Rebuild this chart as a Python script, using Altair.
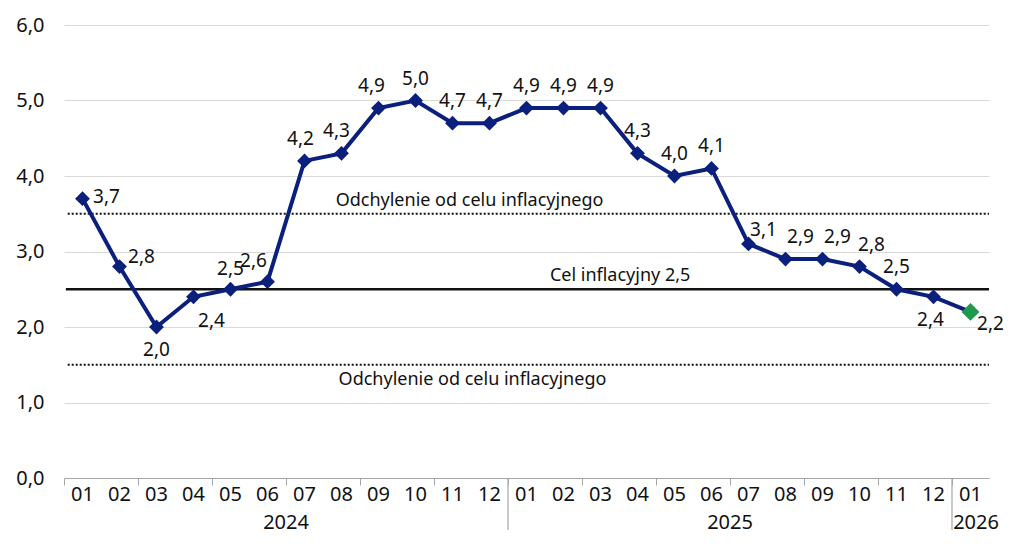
import altair as alt
import pandas as pd

months = ["01","02","03","04","05","06","07","08","09","10","11","12",
          "01","02","03","04","05","06","07","08","09","10","11","12","01"]
years = ["2024"] * 12 + ["2025"] * 12 + ["2026"]
values = [3.7, 2.8, 2.0, 2.4, 2.5, 2.6, 4.2, 4.3, 4.9, 5.0, 4.7, 4.7,
          4.9, 4.9, 4.9, 4.3, 4.0, 4.1, 3.1, 2.9, 2.9, 2.8, 2.5, 2.4, 2.2]
is_forecast = [False] * 24 + [True]
year_labels = ["2024", "2025", "2026"]
year_centers = [6, 18, 24.65]
year_bounds = [12, 24]
target = 2.5
band_upper = 3.5
band_lower = 1.5
target_label = "Cel inflacyjny 2,5"
band_label = "Odchylenie od celu inflacyjnego"

# label offsets per point (style only, pixels)
label_dx = [24, 22, 0, 18, 0, -14, -4, -5, -7, 0, 0, 0,
            0, 0, 0, 0, 0, 0, 15, 15, 15, 12, 0, -3, 20]
label_dy = [-2, -10, 23, 24, -20, -21, -22, -22, -22, -22, -22, -22,
            -22, -22, -22, -22, -22, -22, -14, -22, -22, -22, -22, 23, 12]

W, H = 925, 453
FONT = "Noto Sans"
NAVY = "#0b1f7c"
GREEN = "#1e9a4c"

df = pd.DataFrame({
    "idx": [i + 0.5 for i in range(len(values))],
    "month": months,
    "year": years,
    "value": values,
    "forecast": is_forecast,
    "label": [f"{v:.1f}".replace(".", ",") for v in values],
    "key": [f"{a}_{b}" for a, b in zip(label_dx, label_dy)],
})

x = alt.X("idx:Q", scale=alt.Scale(domain=[0, 25], nice=False, zero=False),
          axis=alt.Axis(values=list(range(26)), labels=False, tickSize=7,
                        tickColor="#a6a6a6", domainColor="#a6a6a6", grid=False,
                        title=None, domainWidth=1.2))
y = alt.Y("value:Q", scale=alt.Scale(domain=[0, 6], nice=False),
          axis=alt.Axis(values=[i * 0.5 for i in range(13)], labelExpr=
                        "datum.value % 1 == 0 ? replace(format(datum.value, '.1f'), '.', ',') : ''",
                        grid=True, gridColor="#d9d9d9", gridWidth=1, ticks=False,
                        domain=False, labelFontSize=20, labelFont=FONT, labelColor="#111",
                        labelPadding=20, title=None))

base = alt.Chart(df)

grid = base.mark_point(opacity=0).encode(x=x, y=y)

rules_df = pd.DataFrame({"y": [band_upper, band_lower], "x0": [0.1, 0.1], "x1": [25, 25]})
band_rules = alt.Chart(rules_df).mark_rule(color="#111", strokeWidth=2.2, strokeDash=[2, 2]).encode(
    y="y:Q", x="x0:Q", x2="x1:Q")
target_rule = alt.Chart(pd.DataFrame({"y": [target], "x0": [0.05], "x1": [25]})).mark_rule(
    color="#111", strokeWidth=2.5).encode(y="y:Q", x="x0:Q", x2="x1:Q")

ann_top_df = pd.DataFrame({"x": [10.96, 15.03], "y": [band_upper, target],
                           "t": [band_label, target_label]})
ann_bot_df = pd.DataFrame({"x": [11.04], "y": [band_lower], "t": [band_label]})
ann_top = alt.Chart(ann_top_df).mark_text(font=FONT, fontSize=18, color="#111", dy=-13).encode(
    x="x:Q", y="y:Q", text="t:N")
ann_bot = alt.Chart(ann_bot_df).mark_text(font=FONT, fontSize=18, color="#111", dy=15).encode(
    x="x:Q", y="y:Q", text="t:N")

line = base.mark_line(color=NAVY, strokeWidth=4).encode(x="idx:Q", y="value:Q")
points = base.mark_point(shape="diamond", filled=True, opacity=1).encode(
    x="idx:Q", y="value:Q",
    size=alt.condition("datum.forecast", alt.value(320), alt.value(220)),
    color=alt.condition("datum.forecast", alt.value(GREEN), alt.value(NAVY)))

label_layers = []
seen = []
for dx, dy in zip(label_dx, label_dy):
    if (dx, dy) in seen:
        continue
    seen.append((dx, dy))
    label_layers.append(
        base.transform_filter(f"datum.key == '{dx}_{dy}'").mark_text(
            font=FONT, fontSize=19, color="#111", dx=dx, dy=dy,
            align="center", baseline="middle").encode(x="idx:Q", y="value:Q", text="label:N"))

month_labels = base.mark_text(font=FONT, fontSize=20, color="#111", baseline="middle").encode(
    x="idx:Q", y=alt.value(H + 17), text="month:N")

yl_df = pd.DataFrame({"x": year_centers, "t": year_labels})
year_text = alt.Chart(yl_df).mark_text(font=FONT, fontSize=20, color="#111", baseline="alphabetic").encode(
    x="x:Q", y=alt.value(H + 51), text="t:N")

sep_df = pd.DataFrame({"x": year_bounds})
seps = alt.Chart(sep_df).mark_rule(color="#a6a6a6", strokeWidth=1.2).encode(
    x="x:Q", y=alt.value(H), y2=alt.value(H + 52))

chart = alt.layer(
    grid, band_rules, target_rule, ann_top, ann_bot, line, points,
    *label_layers, month_labels, year_text, seps
).properties(
    width=W, height=H,
    autosize=alt.AutoSizeParams(type="none"),
    padding={"left": 56, "top": 17, "right": 16, "bottom": 58},
).configure_view(stroke=None).configure_axis(labelFont=FONT)

chart.save("out.html", embed_options={"renderer": "svg", "actions": False})
